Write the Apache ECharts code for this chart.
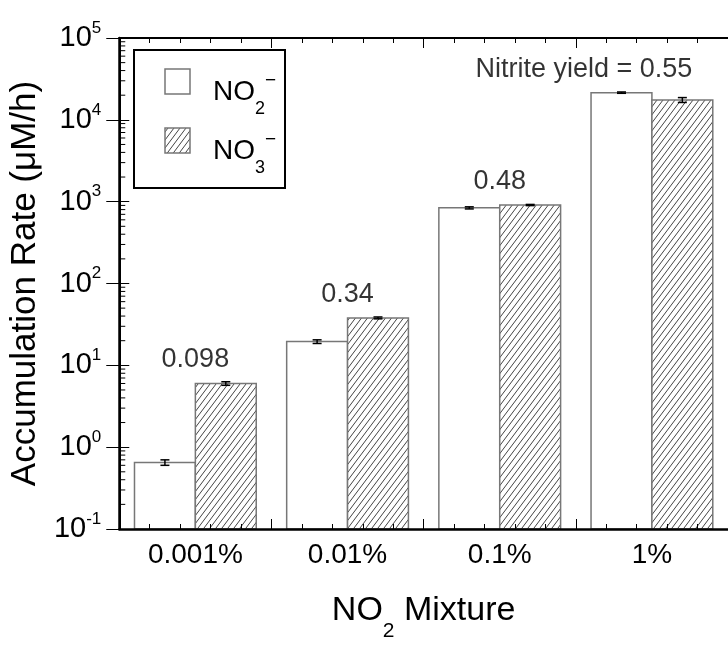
<!DOCTYPE html>
<html>
<head>
<meta charset="utf-8">
<script src="https://cdn.jsdelivr.net/npm/echarts@6/dist/echarts.min.js"></script>
<style>
  html, body { margin: 0; padding: 0; background: #fff; }
  #chart { width: 728px; height: 647px; }
</style>
</head>
<body>
<div id="chart"></div>
<script>
  // data
  var categories = ['0.001%', '0.01%', '0.1%', '1%'];
  var nitrite = [0.65, 19.5, 840, 21500];
  var nitriteErr = [0.05, 1.0, 25, 400];
  var nitrate = [6.0, 38, 910, 17500];
  var nitrateErr = [0.3, 1.0, 15, 1200];
  var yields = ['0.098', '0.34', '0.48', 'Nitrite yield = 0.55'];
  var legendSubs = ['2', '3'];
  // log axis minor ticks
  var decades = [-1, 0, 1, 2, 3, 4];
  var minorSteps = [2, 3, 4, 5, 6, 7, 8, 9];

  var FONT = 'Liberation Sans, Arial, sans-serif';

  // hatch pattern "/"
  var hatch = document.createElement('canvas');
  var hw = 6, hh = 8;
  hatch.width = hw; hatch.height = hh;
  var hc = hatch.getContext('2d');
  hc.fillStyle = '#fff'; hc.fillRect(0, 0, hw, hh);
  hc.strokeStyle = '#444'; hc.lineWidth = 1;
  hc.beginPath();
  hc.moveTo(-1, hh + hh / hw); hc.lineTo(hw + 1, -hh / hw);
  hc.moveTo(-1, hh / hw); hc.lineTo(1, -hh / hw);
  hc.moveTo(hw - 1, hh + hh / hw); hc.lineTo(hw + 1, hh - hh / hw);
  hc.stroke();
  var hatchFill = { image: hatch, repeat: 'repeat' };

  var minorTicks = [];
  decades.forEach(function (d) {
    minorSteps.forEach(function (m) { minorTicks.push([0, m * Math.pow(10, d)]); });
  });

  function barData(vals) {
    return vals.map(function (v, i) { return [i, v]; });
  }
  function errData(vals, errs) {
    return vals.map(function (v, i) { return [i, v - errs[i], v + errs[i]]; });
  }

  // bars drawn from the bottom of the log axis
  function barItem(side, fill) {
    return function (params, api) {
      var cat = api.value(0);
      var bw = api.size([1, 0])[0];
      var p = api.coord([cat, api.value(1)]);
      var w = bw * 0.4;
      var bottom = params.coordSys.y + params.coordSys.height;
      return {
        type: 'rect',
        shape: { x: side < 0 ? p[0] - w : p[0], y: p[1], width: w, height: bottom - p[1] },
        style: { fill: fill, stroke: '#777', lineWidth: 1.5 }
      };
    };
  }

  function errorBar(side) {
    return function (params, api) {
      var cat = api.value(0);
      var bw = api.size([1, 0])[0];
      var top = api.coord([cat, api.value(2)]);
      var bot = api.coord([cat, api.value(1)]);
      var x = top[0] + side * bw * 0.2;
      var cap = 4.5;
      var st = { stroke: '#000', lineWidth: 1.5 };
      return {
        type: 'group',
        children: [
          { type: 'line', shape: { x1: x, y1: top[1], x2: x, y2: bot[1] }, style: st },
          { type: 'line', shape: { x1: x - cap, y1: top[1], x2: x + cap, y2: top[1] }, style: st },
          { type: 'line', shape: { x1: x - cap, y1: bot[1], x2: x + cap, y2: bot[1] }, style: st }
        ]
      };
    };
  }

  var labelData = categories.map(function (c, i) {
    var item = { value: [i, Math.max(nitrite[i], nitrate[i])] };
    if (i === categories.length - 1) item.label = { offset: [-68, 0] };
    return item;
  });

  var legendRich = {
    n: { fontSize: 28, fontFamily: FONT, fill: '#000' },
    s: { fontSize: 18, fontFamily: FONT, fill: '#000', padding: [34, 0, 0, 0] },
    p: { fontSize: 19, fontFamily: FONT, fill: '#000', padding: [0, 0, 22, 0] }
  };

  var chart = echarts.init(document.getElementById('chart'), null, { renderer: 'canvas' });

  var option = {
    animation: false,
    backgroundColor: '#fff',
    grid: { left: 117, right: -8, top: 38, bottom: 110 },
    graphic: [
      { type: 'rect', shape: { x: 134, y: 50, width: 151, height: 138 },
        style: { fill: 'none', stroke: '#000', lineWidth: 2 }, z: 10 },
      { type: 'rect', shape: { x: 165, y: 69, width: 25, height: 25 },
        style: { fill: '#fff', stroke: '#777', lineWidth: 1.5 }, z: 10 },
      { type: 'rect', shape: { x: 165, y: 128, width: 25, height: 25 },
        style: { fill: hatchFill, stroke: '#777', lineWidth: 1.5 }, z: 10 },
      { type: 'text', x: 213, y: 92, z: 10,
        style: { text: '{n|NO}{s|' + legendSubs[0] + '}{p|\u2212}', verticalAlign: 'middle', align: 'left', rich: legendRich } },
      { type: 'text', x: 213, y: 151, z: 10,
        style: { text: '{n|NO}{s|' + legendSubs[1] + '}{p|\u2212}', verticalAlign: 'middle', align: 'left', rich: legendRich } }
    ],
    xAxis: [
      {
        type: 'category',
        data: categories,
        position: 'bottom',
        z: 10,
        axisLine: { lineStyle: { color: '#000', width: 2.5 } },
        axisTick: { show: false },
        axisLabel: { color: '#000', fontSize: 28, fontFamily: FONT, margin: 12 },
        name: '{a|NO}{b|2}{a| Mixture}',
        nameLocation: 'middle',
        nameGap: 50,
        nameTextStyle: {
          rich: {
            a: { fontSize: 34, fontFamily: FONT, color: '#000' },
            b: { fontSize: 21, fontFamily: FONT, color: '#000', padding: [42, 0, 0, 0] }
          }
        }
      },
      {
        type: 'value', min: 0, max: 4, interval: 1, position: 'bottom',
        z: 10,
        axisLine: { show: false },
        axisTick: { inside: true, length: 10, lineStyle: { color: '#000', width: 1 } },
        minorTick: { show: true, splitNumber: 5, length: 5, lineStyle: { color: '#000', width: 1 } },
        axisLabel: { show: false }, splitLine: { show: false }
      },
      {
        type: 'value', min: 0, max: 4, interval: 1, position: 'top',
        z: 10,
        axisLine: { show: true, lineStyle: { color: '#000', width: 2 } },
        axisTick: { inside: true, length: 10, lineStyle: { color: '#000', width: 1 } },
        minorTick: { show: true, splitNumber: 5, length: 5, lineStyle: { color: '#000', width: 1 } },
        axisLabel: { show: false }, splitLine: { show: false }
      }
    ],
    yAxis: [
      {
        type: 'log', logBase: 10, min: 0.1, max: 100000, interval: 1,
        position: 'left',
        z: 10,
        axisLine: { show: true, lineStyle: { color: '#000', width: 2.5 } },
        axisTick: { show: true, inside: true, length: 10, lineStyle: { color: '#000', width: 1 } },
        splitLine: { show: false },
        axisLabel: {
          margin: 18,
          formatter: function (v) {
            return '{b|10}{s|' + Math.round(Math.log10(v)) + '}';
          },
          rich: {
            b: { fontSize: 29, fontFamily: FONT, color: '#000' },
            s: { fontSize: 17, fontFamily: FONT, color: '#000', padding: [0, 0, 20, 0] }
          }
        },
        name: 'Accumulation Rate (\u03bcM/h)',
        nameLocation: 'middle',
        nameGap: 62,
        nameTextStyle: { fontSize: 35, fontFamily: FONT, color: '#000' }
      },
      {
        type: 'log', logBase: 10, min: 0.1, max: 100000, interval: 1,
        position: 'right',
        z: 10,
        axisLine: { show: true, lineStyle: { color: '#000', width: 2 } },
        axisTick: { show: true, inside: true, length: 13, lineStyle: { color: '#000', width: 1 } },
        axisLabel: { show: false }, splitLine: { show: false }
      }
    ],
    series: [
      { name: 'NO2', type: 'custom', data: barData(nitrite), renderItem: barItem(-1, '#fff'), z: 2 },
      { name: 'NO3', type: 'custom', data: barData(nitrate), renderItem: barItem(1, hatchFill), z: 2 },
      { type: 'custom', data: errData(nitrite, nitriteErr), renderItem: errorBar(-1), z: 5 },
      { type: 'custom', data: errData(nitrate, nitrateErr), renderItem: errorBar(1), z: 5 },
      {
        type: 'custom', data: minorTicks, z: 6,
        renderItem: function (params, api) {
          var y = api.coord([0, api.value(1)])[1];
          var x0 = params.coordSys.x;
          return { type: 'line', shape: { x1: x0, y1: y, x2: x0 + 6, y2: y }, style: { stroke: '#000', lineWidth: 1 } };
        }
      },
      {
        type: 'scatter', data: labelData, symbolSize: 0, silent: true,
        label: {
          show: true, position: 'top', distance: 10,
          color: '#000', fontSize: 27, fontFamily: FONT,
          formatter: function (p) { return yields[p.dataIndex]; }
        }
      }
    ]
  };

  chart.setOption(option);
</script>
</body>
</html>
